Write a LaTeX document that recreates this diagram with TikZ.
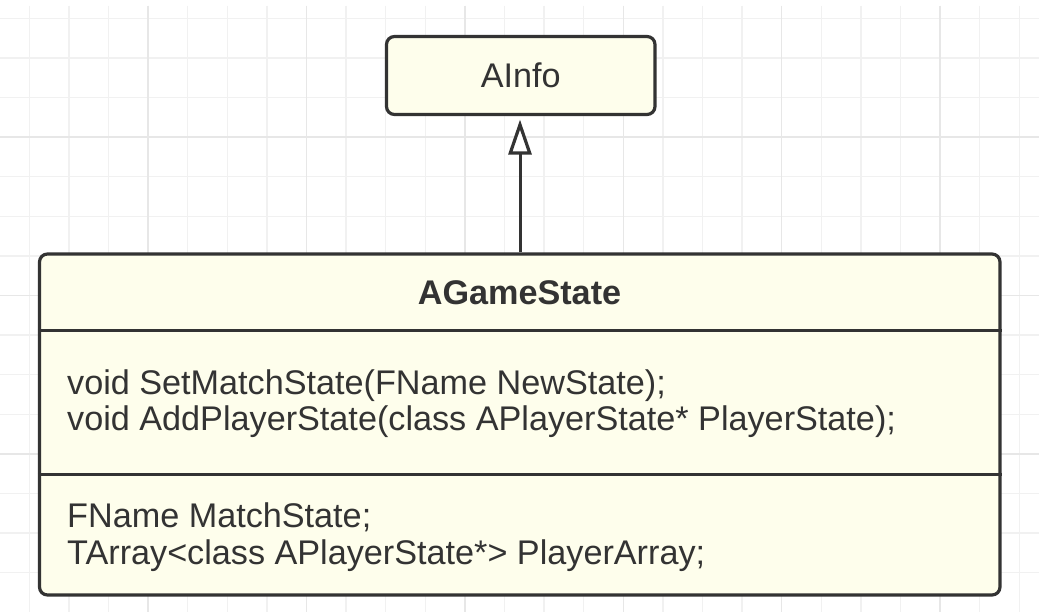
\documentclass[tikz,border=0pt]{standalone}
\usepackage{fontspec}
\setmainfont{Liberation Sans}
\usetikzlibrary{arrows.meta}
\definecolor{boxfill}{HTML}{FEFEEC}
\definecolor{ink}{HTML}{333333}
\definecolor{gridminor}{HTML}{F1F1F1}
\definecolor{gridmajor}{HTML}{E7E7E7}
\begin{document}
\begin{tikzpicture}[x=1pt,y=-1pt,
  classbox/.style={draw=ink, line width=3.2pt, fill=boxfill, rounded corners=8pt, inner sep=0pt},
  txt/.style={text=ink, font=\fontsize{34.2}{40}\selectfont, inner sep=0pt},
  memberline/.style={txt, anchor=base west},
  divider/.style={draw=ink, line width=3pt},
  minorline/.style={draw=gridminor, line width=1.3pt},
  majorline/.style={draw=gridmajor, line width=1.5pt},
  inherit/.style={draw=ink, line width=3pt, -{Triangle[open, fill=white, length=35pt, width=23pt, line width=3.2pt]}}]
\useasboundingbox[fill=white] (0,0) rectangle (1039,612);
% grid
\foreach \k in {0,...,25} {
  \pgfmathsetmacro\xx{29.3+39.6*\k}
  \draw[minorline] (\xx,6) -- (\xx,612);
}
\foreach \j in {0,...,15} {
  \pgfmathsetmacro\yy{18.3+39.6*\j}
  \draw[minorline] (0,\yy) -- (1039,\yy);
}
\foreach \k in {3,7,11,15,19,23} {
  \pgfmathsetmacro\xx{29.3+39.6*\k}
  \draw[majorline] (\xx,6) -- (\xx,612);
}
\foreach \j in {3,7,11} {
  \pgfmathsetmacro\yy{18.3+39.6*\j}
  \draw[majorline] (0,\yy) -- (1039,\yy);
}
% classes
\node[classbox, txt, minimum width=268.5pt, minimum height=78pt] (ainfo) at (520.75,75.5) {AInfo};
\node[classbox, minimum width=960.5pt, minimum height=341pt] (agame) at (519.75,424.5) {};
\coordinate (d1) at (519.75,331);
\coordinate (d2) at (519.75,474);
\draw[divider] (agame.west |- d1) -- (agame.east |- d1);
\draw[divider] (agame.west |- d2) -- (agame.east |- d2);
\node[txt, anchor=base] (title) at (519.5,305) {\bfseries AGameState};
\node[memberline] (m1) at (67,394) {void SetMatchState(FName NewState);};
\node[memberline] (m2) at (67,430) {void AddPlayerState(class APlayerState* PlayerState);};
\node[memberline] (a1) at (67,527.5) {FName MatchState;};
\node[memberline] (a2) at (67,564) {TArray<class APlayerState*> PlayerArray;};
% inheritance
\draw[inherit, shorten >=3.5pt] (agame.north -| 520,0) -- (ainfo.south -| 520,0);
\end{tikzpicture}
\end{document}
